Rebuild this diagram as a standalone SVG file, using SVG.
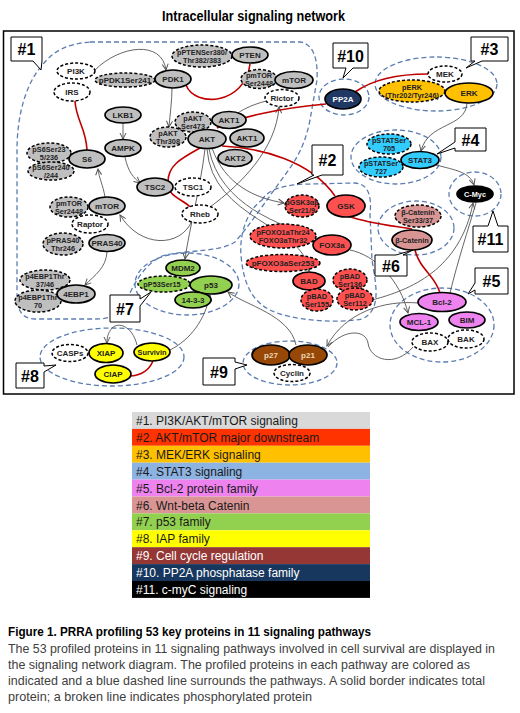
<svg xmlns="http://www.w3.org/2000/svg" width="520" height="713" viewBox="0 0 520 713">
<defs>
<style>
.grp{fill:none;stroke:#5b7db1;stroke-width:1.3;stroke-dasharray:5 3}
.n{stroke:#000;stroke-width:1.7}
.d{stroke:#000;stroke-width:1.5;stroke-dasharray:3 2}
.gray{fill:#bfbfbf}.red{fill:#ff5050}.org{fill:#ffc000}.blu{fill:#33ccff}.mag{fill:#ee82ee}.cat{fill:#d99594}.grn{fill:#92d050}.yel{fill:#ffff00}.brn{fill:#984806}.nav{fill:#1f3864}.blk{fill:#000}.wht{fill:#fff}
text{font-family:"Liberation Sans",Arial,sans-serif}
.t{font-size:8px;font-weight:bold;text-anchor:middle;fill:#222}
.t2{font-size:7.3px;font-weight:bold;text-anchor:middle;fill:#222}
.w{fill:#fff}
.bt{fill:#ecd9bd}
.gc{fill:none;stroke:#555;stroke-width:0.9}
.rc{fill:none;stroke:#c00000;stroke-width:1.6}
.co{fill:#fff;stroke:#000;stroke-width:1}
.cl{font-size:16px;font-weight:bold;text-anchor:middle;fill:#000}
.lg{font-size:12px;fill:#1a1a1a}
.cap{font-size:13px;fill:#404040}
</style>
<marker id="ah" markerWidth="8" markerHeight="8" refX="7" refY="4" orient="auto" markerUnits="userSpaceOnUse"><path d="M1,1 L7,4 L1,7" fill="none" stroke="#555" stroke-width="1"/></marker>
</defs>
<rect width="520" height="713" fill="#fff"/>
<text x="162" y="21" font-size="14" font-weight="bold" textLength="183" lengthAdjust="spacingAndGlyphs">Intracellular signaling network</text>
<rect x="3.5" y="31" width="510.5" height="363" fill="none" stroke="#000" stroke-width="1.5"/>

<g id="outlines">
<path class="grp" d="M90,42 L300,42 C314,44 318,60 317,80 L310,120 C306,140 300,155 285,175 C270,195 250,225 235,242 C220,252 190,250 165,255 C145,262 133,285 126,302 C118,318 106,319 95,319 L35,319 C22,319 17,310 17,295 L17,150 C17,115 26,85 40,68 C52,52 65,44 90,42 Z"/>
<path class="grp" d="M262,200 C268,188 290,184 310,184 L355,183 C368,184 372,195 370,215 L372,260 C376,285 382,310 362,319 C335,324 290,320 270,310 C250,300 243,280 241,255 C239,230 250,208 262,200 Z"/>
<ellipse class="grp" cx="436" cy="84" rx="61" ry="27"/>
<ellipse class="grp" cx="396" cy="157" rx="45" ry="27"/>
<ellipse class="grp" cx="442" cy="325" rx="52" ry="37"/>
<ellipse class="grp" cx="416" cy="228" rx="38" ry="27"/>
<ellipse class="grp" cx="187" cy="284" rx="52" ry="31"/>
<ellipse class="grp" cx="112" cy="357" rx="72" ry="29"/>
<ellipse class="grp" cx="290" cy="363" rx="47" ry="22"/>
<ellipse class="grp" cx="344" cy="97" rx="25" ry="18"/>
<ellipse class="grp" cx="475" cy="194" rx="26" ry="22"/>
</g>

<g id="connectors">
<path class="gc" marker-end="url(#ah)" d="M95,70 C120,45 162,40 166,70"/>
<path class="gc" marker-end="url(#ah)" d="M172,88 C172,100 170,115 169,127"/>
<path class="gc" marker-end="url(#ah)" d="M123,123 L123,139"/>
<path class="gc" marker-end="url(#ah)" d="M125,157 C128,172 134,178 140,183"/>
<path class="gc" marker-end="url(#ah)" d="M222,121 L211,121"/>
<path class="gc" d="M266,101 C255,104 245,108 238,113"/>
<path class="gc" marker-end="url(#ah)" d="M210,207 C240,185 276,150 279,107"/>
<path class="gc" marker-end="url(#ah)" d="M205,149 C200,190 190,225 185,259"/>
<path class="gc" marker-end="url(#ah)" d="M192,221 C180,248 140,248 120,215"/>
<path class="gc" marker-end="url(#ah)" d="M105,197 C103,185 99,178 98,169"/>
<path class="gc" marker-end="url(#ah)" d="M107,252 C106,268 95,275 85,285"/>
<path class="gc" marker-end="url(#ah)" d="M212,148 C225,185 255,198 284,203"/>
<path class="gc" marker-end="url(#ah)" d="M209,149 C220,205 280,225 316,237"/>
<path class="gc" marker-end="url(#ah)" d="M207,149 C212,220 305,225 309,271"/>
<path class="gc" marker-end="url(#ah)" d="M467,103 C466,128 428,122 421,151"/>
<path class="gc" marker-end="url(#ah)" d="M436,165 C455,170 470,172 474,185"/>
<path class="gc" marker-end="url(#ah)" d="M350,250 C375,255 400,280 408,313"/>
<path class="gc" marker-end="url(#ah)" d="M372,300 C410,290 460,270 473,203"/>
<path class="gc" d="M450,293 C458,260 468,230 476,203"/>
<path class="gc" marker-end="url(#ah)" d="M418,303 C385,300 345,312 327,346"/>
<path class="gc" d="M413,347 C395,368 370,360 368,343 C366,330 345,328 328,347"/>
<path class="gc" marker-end="url(#ah)" d="M296,345 C290,315 245,305 228,292"/>
<path class="gc" marker-end="url(#ah)" d="M170,350 C190,340 205,320 210,295"/>
<path class="gc" marker-end="url(#ah)" d="M137,345 C132,325 118,322 112,328 C108,333 107,337 107,343"/>
<path class="rc" d="M186,85 C195,108 245,105 250,64"/>
<path class="rc" d="M75,101 C76,120 86,128 87,150"/>
<path class="rc" d="M200,148 C182,158 168,165 168,182 C168,198 182,198 190,207"/>
<path class="rc" d="M222,146 C260,148 310,160 335,196"/>
<path class="rc" d="M217,128 C235,118 280,108 326,104"/>
<path class="rc" d="M355,92 C375,78 405,74 428,74"/>
<path class="rc" d="M348,216 C370,224 395,226 412,229"/>
<path class="rc" d="M415,250 C420,270 435,275 440,293"/>
<path class="rc" d="M131,376 C143,375 150,368 153,361"/>
</g>

<g id="n-PI3K"><ellipse class="d wht" cx="76" cy="71" rx="19" ry="8"/><text class="t" x="76" y="74">PI3K</text></g>
<g id="n-IRS"><ellipse class="d wht" cx="72" cy="92" rx="18" ry="9"/><text class="t" x="72" y="95">IRS</text></g>
<g id="n-pPDK1"><ellipse class="d gray" cx="125" cy="80" rx="30" ry="7"/><text class="t" x="125" y="83">pPDK1Ser241</text></g>
<g id="n-PDK1"><ellipse class="n gray" cx="173" cy="79" rx="18" ry="9"/><text class="t" x="173" y="82">PDK1</text></g>
<g id="n-pPTEN"><ellipse class="d gray" cx="202" cy="56" rx="30" ry="11"/><text class="t2" x="202" y="54.5">pPTENSer380/</text><text class="t2" x="202" y="62.5">Thr382/383</text></g>
<g id="n-PTEN"><ellipse class="n gray" cx="250" cy="55" rx="18" ry="8"/><text class="t" x="250" y="58">PTEN</text></g>
<g id="n-pmTOR-r"><ellipse class="d gray" cx="259" cy="79" rx="18" ry="9.5"/><text class="t2" x="259" y="77.5">pmTOR</text><text class="t2" x="259" y="85.5">Ser2448</text></g>
<g id="n-mTOR-r"><ellipse class="n gray" cx="294" cy="80" rx="19" ry="8.5"/><text class="t" x="294" y="83">mTOR</text></g>
<g id="n-Rictor"><ellipse class="d wht" cx="282" cy="98" rx="17" ry="8.5"/><text class="t" x="282" y="101">Rictor</text></g>
<g id="n-LKB1"><ellipse class="n gray" cx="123" cy="115" rx="18" ry="8"/><text class="t" x="123" y="118">LKB1</text></g>
<g id="n-AMPK"><ellipse class="n gray" cx="123" cy="148" rx="18" ry="8.5"/><text class="t" x="123" y="151">AMPK</text></g>
<g id="n-pAKT308"><ellipse class="d gray" cx="168" cy="137" rx="18" ry="10"/><text class="t2" x="168" y="135.5">pAKT</text><text class="t2" x="168" y="143.5">Thr308</text></g>
<g id="n-pAKT473"><ellipse class="d gray" cx="193" cy="122" rx="18" ry="10"/><text class="t2" x="193" y="120.5">pAKT</text><text class="t2" x="193" y="128.5">Ser473</text></g>
<g id="n-AKT1a"><ellipse class="n gray" cx="229" cy="120" rx="17" ry="8.5"/><text class="t" x="229" y="123">AKT1</text></g>
<g id="n-AKT"><ellipse class="n gray" cx="207" cy="139" rx="19" ry="9.5"/><text class="t" x="207" y="142">AKT</text></g>
<g id="n-AKT1b"><ellipse class="n gray" cx="247" cy="138" rx="17" ry="9"/><text class="t" x="247" y="141">AKT1</text></g>
<g id="n-AKT2"><ellipse class="n gray" cx="235" cy="158" rx="17" ry="8.5"/><text class="t" x="235" y="161">AKT2</text></g>
<g id="n-pS6-235"><ellipse class="d gray" cx="49" cy="153" rx="22" ry="10"/><text class="t2" x="49" y="151.5">pS6Ser23</text><text class="t2" x="49" y="159.5">5/236</text></g>
<g id="n-pS6-240"><ellipse class="d gray" cx="51" cy="171" rx="23" ry="9"/><text class="t2" x="51" y="169.5">pS6Ser240</text><text class="t2" x="51" y="177.5">/244</text></g>
<g id="n-S6"><ellipse class="n gray" cx="87" cy="159" rx="18" ry="9"/><text class="t" x="87" y="162">S6</text></g>
<g id="n-TSC2"><ellipse class="n gray" cx="155" cy="187" rx="18" ry="9"/><text class="t" x="155" y="190">TSC2</text></g>
<g id="n-TSC1"><ellipse class="d wht" cx="193" cy="187" rx="18" ry="9"/><text class="t" x="193" y="190">TSC1</text></g>
<g id="n-Rheb"><ellipse class="d wht" cx="200" cy="214" rx="18" ry="9"/><text class="t" x="200" y="217">Rheb</text></g>
<g id="n-pmTOR-l"><ellipse class="d gray" cx="69" cy="207" rx="19" ry="10"/><text class="t2" x="69" y="205.5">pmTOR</text><text class="t2" x="69" y="213.5">Ser2448</text></g>
<g id="n-mTOR-l"><ellipse class="n gray" cx="107" cy="206" rx="18" ry="9"/><text class="t" x="107" y="209">mTOR</text></g>
<g id="n-Raptor"><ellipse class="d wht" cx="90" cy="224" rx="18" ry="9"/><text class="t" x="90" y="227">Raptor</text></g>
<g id="n-pPRAS40"><ellipse class="d gray" cx="63" cy="244" rx="20" ry="11"/><text class="t2" x="63" y="242.5">pPRAS40</text><text class="t2" x="63" y="250.5">Thr246</text></g>
<g id="n-PRAS40"><ellipse class="n gray" cx="107" cy="243" rx="18" ry="8.5"/><text class="t" x="107" y="246">PRAS40</text></g>
<g id="n-p4EBP1-37"><ellipse class="d gray" cx="45" cy="280" rx="25" ry="10"/><text class="t2" x="45" y="278.5">p4EBP1Thr</text><text class="t2" x="45" y="286.5">37/46</text></g>
<g id="n-p4EBP1-70"><ellipse class="d gray" cx="38" cy="301" rx="23" ry="11"/><text class="t2" x="38" y="299.5">p4EBP1Thr</text><text class="t2" x="38" y="307.5">70</text></g>
<g id="n-4EBP1"><ellipse class="n gray" cx="76" cy="294" rx="19" ry="9"/><text class="t" x="76" y="297">4EBP1</text></g>

<g id="n-MEK"><ellipse class="d wht" cx="445" cy="74" rx="17" ry="8"/><text class="t" x="445" y="77">MEK</text></g>
<g id="n-pERK"><ellipse class="d org" cx="412" cy="91" rx="33" ry="11"/><text class="t2" x="412" y="89.5">pERK</text><text class="t2" x="412" y="97.5" font-size="7">(Thr202/Tyr246)</text></g>
<g id="n-ERK"><ellipse class="n org" cx="469" cy="93" rx="24" ry="10"/><text class="t" x="469" y="96">ERK</text></g>
<g id="n-PP2A"><ellipse class="n nav" cx="343" cy="99" rx="18" ry="10"/><text class="t w" x="343" y="102">PP2A</text></g>
<g id="n-pSTAT705"><ellipse class="d blu" cx="389" cy="144" rx="22" ry="10"/><text class="t2" x="389" y="142.5">pSTATSer</text><text class="t2" x="389" y="150.5">705</text></g>
<g id="n-pSTAT727"><ellipse class="d blu" cx="381" cy="167" rx="22" ry="10"/><text class="t2" x="381" y="165.5">pSTATSer</text><text class="t2" x="381" y="173.5">727</text></g>
<g id="n-STAT3"><ellipse class="n blu" cx="420" cy="160" rx="19" ry="8.5"/><text class="t" x="420" y="163">STAT3</text></g>
<g id="n-CMyc"><ellipse class="n blk" cx="475" cy="194" rx="18" ry="8"/><text class="t2 w" x="475" y="196.5">C-Myc</text></g>
<g id="n-bCatS"><ellipse class="d cat" cx="418" cy="216" rx="23" ry="11"/><text class="t2" x="418" y="214.5">β-Catenin</text><text class="t2" x="418" y="222.5">Ser33/37</text></g>
<g id="n-bCat"><ellipse class="n cat" cx="412" cy="240" rx="20" ry="10"/><text class="t2" x="412" y="242.5">β-Catenin</text></g>

<g id="n-pGSK"><ellipse class="d red" cx="302" cy="206" rx="17" ry="11"/><text class="t2" x="302" y="204.5">pGSK3αβ</text><text class="t2" x="302" y="212.5">Ser21/9</text></g>
<g id="n-GSK"><ellipse class="n red" cx="346" cy="206" rx="19" ry="11"/><text class="t" x="346" y="209">GSK</text></g>
<g id="n-pFOXO1"><ellipse class="d red" cx="283" cy="236" rx="33" ry="12"/><text class="t2" x="283" y="234.5">pFOXO1aThr24</text><text class="t2" x="283" y="242.5">FOXO3aThr32</text></g>
<g id="n-FOX3a"><ellipse class="n red" cx="332" cy="245" rx="19" ry="10"/><text class="t" x="332" y="248">FOX3a</text></g>
<g id="n-pFOXO3a"><ellipse class="d red" cx="283" cy="263" rx="37" ry="8.5"/><text class="t" x="283" y="266">pFOXO3aSer253</text></g>
<g id="n-BAD"><ellipse class="n red" cx="309" cy="281" rx="16" ry="9"/><text class="t" x="309" y="284">BAD</text></g>
<g id="n-pBAD136"><ellipse class="d red" cx="350" cy="280" rx="17" ry="11"/><text class="t2" x="350" y="278.5">pBAD</text><text class="t2" x="350" y="286.5">Ser136</text></g>
<g id="n-pBAD155"><ellipse class="d red" cx="317" cy="300" rx="16" ry="11"/><text class="t2" x="317" y="298.5">pBAD</text><text class="t2" x="317" y="306.5">Ser155</text></g>
<g id="n-pBAD112"><ellipse class="d red" cx="355" cy="299" rx="18" ry="11"/><text class="t2" x="355" y="297.5">pBAD</text><text class="t2" x="355" y="305.5">Ser112</text></g>

<g id="n-pP53"><ellipse class="d grn" cx="164" cy="284" rx="26" ry="8"/><text class="t2" x="162" y="286.5">pP53Ser15</text></g>
<g id="n-MDM2"><ellipse class="n grn" cx="183" cy="268" rx="17" ry="8"/><text class="t" x="183" y="271">MDM2</text></g>
<g id="n-p53"><ellipse class="n grn" cx="211" cy="285" rx="21" ry="9"/><text class="t" x="211" y="288">p53</text></g>
<g id="n-1433"><ellipse class="n grn" cx="193" cy="300" rx="18" ry="8"/><text class="t" x="193" y="303">14-3-3</text></g>

<g id="n-p27"><ellipse class="n brn" cx="271" cy="355" rx="19" ry="10"/><text class="t bt" x="271" y="358">p27</text></g>
<g id="n-p21"><ellipse class="n brn" cx="308" cy="355" rx="19" ry="10"/><text class="t bt" x="308" y="358">p21</text></g>
<g id="n-Cyclin"><ellipse class="d wht" cx="292" cy="373" rx="18" ry="8.5"/><text class="t" x="292" y="376">Cyclin</text></g>

<g id="n-Bcl2"><ellipse class="n mag" cx="442" cy="302" rx="24" ry="9.5"/><text class="t" x="442" y="305">Bcl-2</text></g>
<g id="n-MCL1"><ellipse class="n mag" cx="419" cy="322" rx="19" ry="8.5"/><text class="t" x="419" y="325">MCL-1</text></g>
<g id="n-BIM"><ellipse class="n mag" cx="467" cy="320" rx="18" ry="8"/><text class="t" x="467" y="323">BIM</text></g>
<g id="n-BAX"><ellipse class="d wht" cx="430" cy="342" rx="18" ry="9"/><text class="t" x="430" y="345">BAX</text></g>
<g id="n-BAK"><ellipse class="d wht" cx="466" cy="339" rx="18" ry="9"/><text class="t" x="466" y="342">BAK</text></g>

<g id="n-CASPs"><ellipse class="d wht" cx="70" cy="353" rx="18" ry="8.5"/><text class="t" x="70" y="356">CASPs</text></g>
<g id="n-XIAP"><ellipse class="n yel" cx="106" cy="353" rx="17" ry="9.5"/><text class="t" x="106" y="356">XIAP</text></g>
<g id="n-Survivin"><ellipse class="n yel" cx="152" cy="352" rx="18" ry="9"/><text class="t2" x="152" y="354.5">Survivin</text></g>
<g id="n-CIAP"><ellipse class="n yel" cx="113" cy="374" rx="18" ry="9"/><text class="t" x="113" y="377">CIAP</text></g>

<g id="callouts">
<path class="co" d="M11,37 H42 V61 L41,70 L33,61 H11 Z"/><text class="cl" x="26.5" y="55">#1</text>
<path class="co" d="M333,43 H368 V68 H353 L343,78 L346,68 H333 Z"/><text class="cl" x="350.5" y="61.5">#10</text>
<path class="co" d="M471,37 H508 V61 H482 L466,68 L475,61 H471 Z"/><text class="cl" x="489.5" y="55">#3</text>
<path class="co" d="M455,128 H486 V151 H455 V148 L437,154 L455,142 Z"/><text class="cl" x="470.5" y="145.5">#4</text>
<path class="co" d="M473,226 H488 L493,211 L498,226 H508 V252 H473 Z"/><text class="cl" x="490.5" y="245">#11</text>
<path class="co" d="M375,255 H396 L413,250 L403,255 H407 V276 H375 Z"/><text class="cl" x="391" y="271.5">#6</text>
<path class="co" d="M475,268 H508 V294 H475 V290 L468,294 L475,283 Z"/><text class="cl" x="491.5" y="287">#5</text>
<path class="co" d="M312,145 H343 V175 H322 L297,184 L314,175 H312 Z"/><text class="cl" x="327.5" y="166">#2</text>
<path class="co" d="M110,295 H140 V299 L151,292 L140,306 V322 H110 Z"/><text class="cl" x="125" y="314.5">#7</text>
<path class="co" d="M16,363 H44 V366 L56,365 L44,372 V388 H16 Z"/><text class="cl" x="30" y="381.5">#8</text>
<path class="co" d="M203,358 H235 V362 L247,365 L235,369 V385 H203 Z"/><text class="cl" x="219" y="377.5">#9</text>
</g>

<g id="legend">
<rect x="132" y="412" width="238" height="16.9" fill="#d9d9d9"/><text class="lg" x="136" y="425">#1. PI3K/AKT/mTOR signaling</text>
<rect x="132" y="428.9" width="238" height="16.9" fill="#ff3300"/><text class="lg" x="136" y="441.9">#2. AKT/mTOR major downstream</text>
<rect x="132" y="445.8" width="238" height="16.9" fill="#ffc000"/><text class="lg" x="136" y="458.8">#3. MEK/ERK signaling</text>
<rect x="132" y="462.7" width="238" height="16.9" fill="#8db3e2"/><text class="lg" x="136" y="475.7">#4. STAT3 signaling</text>
<rect x="132" y="479.6" width="238" height="16.9" fill="#ee82ee"/><text class="lg" x="136" y="492.6">#5. Bcl-2 protein family</text>
<rect x="132" y="496.5" width="238" height="16.9" fill="#d99594"/><text class="lg" x="136" y="509.5">#6. Wnt-beta Catenin</text>
<rect x="132" y="513.4" width="238" height="16.9" fill="#92d050"/><text class="lg" x="136" y="526.4">#7. p53 family</text>
<rect x="132" y="530.3" width="238" height="16.9" fill="#ffff00"/><text class="lg" x="136" y="543.3">#8. IAP family</text>
<rect x="132" y="547.2" width="238" height="16.9" fill="#953735"/><text class="lg" x="136" y="560.2" fill="#fff" style="fill:#fff">#9. Cell cycle regulation</text>
<rect x="132" y="564.1" width="238" height="16.9" fill="#17375e"/><text class="lg" x="136" y="577.1" style="fill:#fff">#10. PP2A phosphatase family</text>
<rect x="132" y="581" width="238" height="16.9" fill="#000"/><text class="lg" x="136" y="594" style="fill:#fff">#11. c-myC signaling</text>
</g>

<g id="caption">
<text x="8" y="636" font-size="13" font-weight="bold" fill="#000" textLength="363" lengthAdjust="spacingAndGlyphs">Figure 1. PRRA profiling 53 key proteins in 11 signaling pathways</text>
<text class="cap" x="8" y="653" textLength="487" lengthAdjust="spacingAndGlyphs">The 53 profiled proteins in 11 signaling pathways involved in cell survival are displayed in</text>
<text class="cap" x="8" y="669" textLength="462" lengthAdjust="spacingAndGlyphs">the signaling network diagram. The profiled proteins in each pathway are colored as</text>
<text class="cap" x="8" y="685" textLength="477" lengthAdjust="spacingAndGlyphs">indicated and a blue dashed line surrounds the pathways. A solid border indicates total</text>
<text class="cap" x="8" y="701" textLength="304" lengthAdjust="spacingAndGlyphs">protein; a broken line indicates phosphorylated protein</text>
</g>
</svg>
